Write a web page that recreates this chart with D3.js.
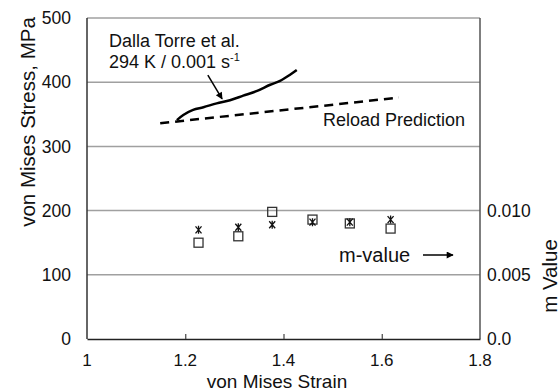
<!DOCTYPE html>
<html>
<head>
<meta charset="utf-8">
<script src="https://cdn.jsdelivr.net/npm/d3@7"></script>
<style>
  html, body { margin: 0; padding: 0; background: #fff; }
  svg { display: block; font-family: "Liberation Sans", Arial, sans-serif; }
</style>
</head>
<body>
<svg id="chart" width="560" height="392"></svg>
<script>
// Experimental flow curve (Dalla Torre et al.)
const torreStrain = [1.183, 1.196, 1.216, 1.237, 1.264, 1.291, 1.318, 1.345, 1.373, 1.393, 1.414, 1.427];
const torreStress = [341, 349, 357, 361, 367, 372, 379, 386, 396, 402, 412, 419];

// Reload prediction line
const reloadStrain = [1.149, 1.635];
const reloadStress = [336, 376];

// Strain-rate sensitivity (m) measurements
const mStrain = [1.227, 1.308, 1.377, 1.459, 1.535, 1.618];
const mSquares = [0.0075, 0.0080, 0.0099, 0.0093, 0.0090, 0.0086];
const mStars = [0.0085, 0.0087, 0.0089, 0.0091, 0.0091, 0.0093];

// Axis ticks
const xTicks = [1, 1.2, 1.4, 1.6, 1.8];
const yTicks = [0, 100, 200, 300, 400, 500];
const mTicks = [0, 0.005, 0.010];
const mTickLabels = ["0.0", "0.005", "0.010"];

const svg = d3.select("#chart");
const L = 87, R = 480, T = 18, B = 339;

const x = d3.scaleLinear().domain([1, 1.8]).range([L, R]);
const y = d3.scaleLinear().domain([0, 500]).range([B, T]);
const ym = d3.scaleLinear().domain([0, 0.025]).range([B, T]);

// arrow marker
const defs = svg.append("defs");
defs.append("marker")
  .attr("id", "arrowHead")
  .attr("viewBox", "0 0 10 10")
  .attr("refX", 9).attr("refY", 5)
  .attr("markerWidth", 10).attr("markerHeight", 7)
  .attr("markerUnits", "userSpaceOnUse")
  .attr("orient", "auto")
  .append("path").attr("d", "M0,0 L10,5 L0,10 Z").attr("fill", "#000");

// gridlines
svg.append("g")
  .selectAll("line")
  .data(yTicks.filter(d => d > 0))
  .join("line")
  .attr("x1", L).attr("x2", R)
  .attr("y1", d => y(d)).attr("y2", d => y(d))
  .attr("stroke", "#a0a0a0").attr("stroke-width", 1.5);

// plot frame: left and right
svg.append("line").attr("x1", L).attr("x2", L).attr("y1", T).attr("y2", B)
  .attr("stroke", "#333").attr("stroke-width", 1.5);
svg.append("line").attr("x1", R).attr("x2", R).attr("y1", T).attr("y2", B)
  .attr("stroke", "#555").attr("stroke-width", 1.5);

// bottom axis with inward ticks
const xAxis = d3.axisBottom(x).tickValues(xTicks).tickSize(-5).tickSizeOuter(0).tickFormat(() => "");
const gx = svg.append("g").attr("transform", `translate(0,${B})`).call(xAxis);
gx.select(".domain").attr("stroke", "#222").attr("stroke-width", 1.5);
gx.selectAll(".tick line").attr("stroke", "#444").attr("stroke-width", 1.2);
gx.selectAll(".tick").filter(d => d === 1 || d === 1.8).select("line").remove();

svg.append("g").selectAll("text")
  .data(xTicks).join("text")
  .attr("x", d => x(d)).attr("y", 366)
  .attr("text-anchor", "middle")
  .attr("font-size", 17).attr("fill", "#111")
  .text(d => d3.format("")(d));

// left tick labels
svg.append("g").selectAll("text")
  .data(yTicks).join("text")
  .attr("x", 71).attr("y", d => y(d))
  .attr("dy", "0.35em")
  .attr("text-anchor", "end")
  .attr("font-size", 17.5).attr("fill", "#111")
  .text(d => d);

// right tick labels (m value)
svg.append("g").selectAll("text")
  .data(mTicks).join("text")
  .attr("x", 487).attr("y", d => ym(d))
  .attr("dy", "0.35em")
  .attr("text-anchor", "start")
  .attr("font-size", 17.5).attr("fill", "#111")
  .text((d, i) => mTickLabels[i]);

// axis titles
svg.append("text")
  .attr("x", 277).attr("y", 388)
  .attr("text-anchor", "middle")
  .attr("font-size", 19).attr("fill", "#111")
  .text("von Mises Strain");

svg.append("text")
  .attr("transform", "translate(35,122) rotate(-90)")
  .attr("text-anchor", "middle")
  .attr("font-size", 20.5).attr("fill", "#111")
  .text("von Mises Stress, MPa");

svg.append("text")
  .attr("transform", "translate(557,276) rotate(-90)")
  .attr("text-anchor", "middle")
  .attr("font-size", 20.5).attr("fill", "#111")
  .text("m Value");

// reload prediction (dashed)
const line = d3.line().x(d => x(d[0])).y(d => y(d[1]));
svg.append("path")
  .datum(d3.zip(reloadStrain, reloadStress))
  .attr("d", line)
  .attr("fill", "none").attr("stroke", "#000")
  .attr("stroke-width", 2.5).attr("stroke-dasharray", "9,6");

// experimental curve
svg.append("path")
  .datum(d3.zip(torreStrain, torreStress))
  .attr("d", line.curve(d3.curveCatmullRom))
  .attr("fill", "none").attr("stroke", "#000")
  .attr("stroke-width", 2.5);

// m-value markers: squares
svg.append("g").selectAll("rect")
  .data(d3.zip(mStrain, mSquares)).join("rect")
  .attr("x", d => x(d[0]) - 4.5).attr("y", d => ym(d[1]) - 4.5)
  .attr("width", 9).attr("height", 9)
  .attr("fill", "none").attr("stroke", "#333").attr("stroke-width", 1.3);

// m-value markers: asterisks
svg.append("g").selectAll("path")
  .data(d3.zip(mStrain, mStars)).join("path")
  .attr("transform", d => `translate(${x(d[0])},${ym(d[1])})`)
  .attr("d", "M-3,-3.5 L3,3.5 M-3,3.5 L3,-3.5 M0,-4 L0,4")
  .attr("fill", "none").attr("stroke", "#111").attr("stroke-width", 1.3);

// annotations
const ann = svg.append("g").attr("fill", "#111");
ann.append("text").attr("x", 109).attr("y", 47).attr("font-size", 18).text("Dalla Torre et al.");
const t2 = ann.append("text").attr("x", 109).attr("y", 68).attr("font-size", 18);
t2.append("tspan").text("294 K / 0.001 s");
t2.append("tspan").attr("dy", -7).attr("font-size", 11).text("-1");

svg.append("line")
  .attr("x1", x(1.246)).attr("y1", y(411))
  .attr("x2", x(1.275)).attr("y2", y(374))
  .attr("stroke", "#000").attr("stroke-width", 1.5)
  .attr("marker-end", "url(#arrowHead)");

ann.append("text").attr("x", 323).attr("y", 126).attr("font-size", 18).text("Reload Prediction");
ann.append("text").attr("x", 339).attr("y", 262).attr("font-size", 20).text("m-value");

svg.append("line")
  .attr("x1", 423).attr("y1", 255).attr("x2", 453).attr("y2", 255)
  .attr("stroke", "#000").attr("stroke-width", 1.5)
  .attr("marker-end", "url(#arrowHead)");
</script>
</body>
</html>
